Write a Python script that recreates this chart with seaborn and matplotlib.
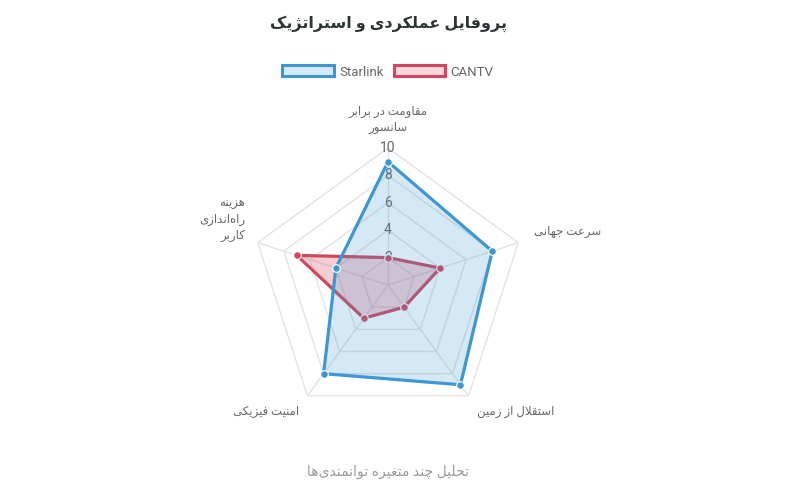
import numpy as np
import seaborn as sns
import matplotlib.pyplot as plt
from matplotlib.patches import Patch

# data
categories = ['مقاومت در برابر\nسانسور', 'سرعت جهانی', 'استقلال از زمین',
              'امنیت فیزیکی', 'هزینه\nراه\u200cاندازی\nکاربر']
starlink = [9, 8, 9, 8, 4]
cantv = [2, 4, 2, 3, 7]
series_names = ['Starlink', 'CANTV']
r_ticks = [2, 4, 6, 8, 10]
title = 'پروفایل عملکردی و استراتژیک'
subtitle = 'تحلیل چند متغیره توانمندی\u200cها'

# minimal arabic/persian shaping (matplotlib has no text shaping)
FORMS = {
    'ا': ('\uFE8D', '\uFE8E', None, None),
    'ب': ('\uFE8F', '\uFE90', '\uFE91', '\uFE92'),
    'پ': ('\uFB56', '\uFB57', '\uFB58', '\uFB59'),
    'ت': ('\uFE95', '\uFE96', '\uFE97', '\uFE98'),
    'ج': ('\uFE9D', '\uFE9E', '\uFE9F', '\uFEA0'),
    'چ': ('\uFB7A', '\uFB7B', '\uFB7C', '\uFB7D'),
    'ح': ('\uFEA1', '\uFEA2', '\uFEA3', '\uFEA4'),
    'د': ('\uFEA9', '\uFEAA', None, None),
    'ر': ('\uFEAD', '\uFEAE', None, None),
    'ز': ('\uFEAF', '\uFEB0', None, None),
    'ژ': ('\uFB8A', '\uFB8B', None, None),
    'س': ('\uFEB1', '\uFEB2', '\uFEB3', '\uFEB4'),
    'ع': ('\uFEC9', '\uFECA', '\uFECB', '\uFECC'),
    'غ': ('\uFECD', '\uFECE', '\uFECF', '\uFED0'),
    'ف': ('\uFED1', '\uFED2', '\uFED3', '\uFED4'),
    'ق': ('\uFED5', '\uFED6', '\uFED7', '\uFED8'),
    'ک': ('\uFB8E', '\uFB8F', '\uFB90', '\uFB91'),
    'ل': ('\uFEDD', '\uFEDE', '\uFEDF', '\uFEE0'),
    'م': ('\uFEE1', '\uFEE2', '\uFEE3', '\uFEE4'),
    'ن': ('\uFEE5', '\uFEE6', '\uFEE7', '\uFEE8'),
    'ه': ('\uFEE9', '\uFEEA', '\uFEEB', '\uFEEC'),
    'و': ('\uFEED', '\uFEEE', None, None),
    'ی': ('\uFBFC', '\uFBFD', '\uFBFE', '\uFBFF'),
}


def shape_line(text):
    out = []
    i = 0
    n = len(text)
    while i < n:
        c = text[i]
        if c not in FORMS:
            if c != '\u200c':
                out.append(c)
            i += 1
            continue
        prev = text[i - 1] if i > 0 else None
        joins_prev = prev in FORMS and FORMS[prev][2] is not None
        if c == 'ل' and i + 1 < n and text[i + 1] == 'ا':
            out.append('\uFEFC' if joins_prev else '\uFEFB')
            i += 2
            continue
        nxt = text[i + 1] if i + 1 < n else None
        joins_next = FORMS[c][2] is not None and nxt in FORMS
        f = FORMS[c]
        if joins_prev and joins_next:
            out.append(f[3])
        elif joins_prev:
            out.append(f[1])
        elif joins_next:
            out.append(f[2])
        else:
            out.append(f[0])
        i += 1
    return ''.join(out)[::-1]


def fa(text):
    return '\n'.join(shape_line(t) for t in text.split('\n'))


sns.set_theme(style='white')
plt.rcParams['font.family'] = ['Roboto', 'DejaVu Sans']

fig = plt.figure(figsize=(8, 4.93), dpi=100)
fig.patch.set_facecolor('white')
ax = fig.add_axes([0.31375, 0.144, 0.3425, 0.5558], projection='polar')
ax.set_theta_offset(np.pi / 2)
ax.set_theta_direction(-1)
ax.set_ylim(0, max(r_ticks))
ax.set_xticks([])
ax.set_yticks([])
ax.grid(False)
ax.spines['polar'].set_visible(False)
ax.set_facecolor('none')

n = len(categories)
angles = np.linspace(0, 2 * np.pi, n, endpoint=False)
closed = np.append(angles, angles[0])

grid_col = '#e3e3e3'
for lvl in r_ticks:
    ax.plot(closed, [lvl] * (n + 1), color=grid_col, lw=1, zorder=1)
for a in angles:
    ax.plot([a, a], [0, max(r_ticks)], color=grid_col, lw=1, zorder=1)

for t in r_ticks:
    ax.text(0, t, str(t), ha='center', va='center', fontsize=10,
            color='#666666', zorder=2)

# CANTV drawn first, Starlink on top (its fill tints the CANTV line)
styles = [
    (cantv, '#d1475f', 0.26),
    (starlink, '#3d97d3', 0.22),
]
z = 3
for vals, lc, al in styles:
    v = np.append(vals, vals[0])
    ax.fill(closed, v, color=lc, alpha=al, lw=0, zorder=z)
    ax.plot(closed, v, color=lc, lw=2.3, zorder=z + 1)
    ax.plot(angles, vals, 'o', color=lc, ms=5.5, mec='white', mew=0.8, zorder=z + 2)
    z += 3

label_pos = [
    ((0, 10), 'center', 'bottom'),
    ((11, 8), 'left', 'center'),
    ((6, -11.5), 'left', 'center'),
    ((-6, -11.5), 'right', 'center'),
    ((-9, 17), 'right', 'center'),
]
for a, lab, (off, ha, va) in zip(angles, categories, label_pos):
    ax.annotate(fa(lab), xy=(a, max(r_ticks)), xytext=off,
                textcoords='offset points', ha=ha, va=va, fontsize=8.5,
                color='#666666', linespacing=1.3,
                multialignment='center' if ha == 'center' else ha)

fig.text(0.485, 1 - 24 / 493, fa(title), ha='center', va='center',
         fontsize=11.5, fontweight='bold', color='#2d3436')
fig.text(0.485, 1 - 472 / 493, fa(subtitle), ha='center', va='center',
         fontsize=10, color='#9a9a9a')

handles = [
    Patch(facecolor='#d6e9f8', edgecolor='#3d97d3', lw=2.2, label=series_names[0]),
    Patch(facecolor='#fbd6dd', edgecolor='#d1475f', lw=2.2, label=series_names[1]),
]
leg = fig.legend(handles=handles, loc='center', bbox_to_anchor=(0.485, 1 - 72 / 493),
                 ncol=2, frameon=False, fontsize=9.5, handlelength=3.9,
                 handleheight=0.9, handletextpad=0.4, columnspacing=0.8)
for txt in leg.get_texts():
    txt.set_color('#666666')

fig.savefig('out.png', dpi=100, facecolor='white')
